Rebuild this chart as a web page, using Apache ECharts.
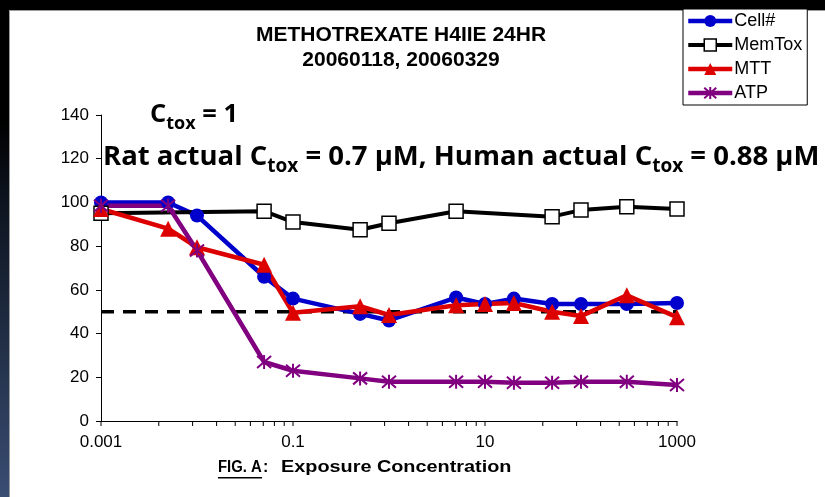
<!DOCTYPE html>
<html>
<head>
<meta charset="utf-8">
<script src="https://cdn.jsdelivr.net/npm/echarts@6/dist/echarts.min.js"></script>
<style>
  html, body { margin: 0; padding: 0; width: 825px; height: 497px; overflow: hidden; background: #000; }
  #edge { position: absolute; left: 0; top: 0; width: 9px; height: 497px;
          background: linear-gradient(to bottom, #000 0px, #000 120px, #0d141f 200px, #1f2c42 330px, #3a4d73 497px); }
  #sheet { position: absolute; left: 9px; top: 10px; right: 0; bottom: 0; background: #fff;
           border-left: 1px solid #9c9c9c; border-top: 1px solid #9c9c9c; }
  #chart { position: absolute; left: 0; top: 0; width: 825px; height: 497px; }
</style>
</head>
<body>
<div id="edge"></div>
<div id="sheet"></div>
<div id="chart"></div>
<script>
// Exposure concentrations (µM) and the response of each assay (% of control)
const concentrations = [0.001, 0.005, 0.01, 0.05, 0.1, 0.5, 1, 5, 10, 20, 50, 100, 300, 1000];
const cellCount = [100, 100, 94, 66, 56, 49, 46, 56.5, 53.5, 56, 53.5, 53.5, 53.5, 54];
const memTox    = [95, null, null, 96, 91, 87.5, 90.5, 96, null, null, 93.5, 96.5, 98, 97];
const mttValues = [97, 88, 79.5, 71.5, 49.5, 52.5, 48.5, 53, 53.5, 54, 50, 48, 57.5, 47.5];
const atpValues = [98.5, 98.5, 78, 27, 23, 19.5, 18, 18, 18, 17.5, 17.5, 18, 18, 16.5];

const thresholdLevel = 50;
const xLabelValues = [0.001, 0.1, 10, 1000];
const yTickLabels = [0, 20, 40, 60, 80, 100, 120, 140];

const titleLines = ['METHOTREXATE H4IIE 24HR', '20060118, 20060329'];
// annotation runs: [text, isSubscript]
const ctoxLine = [['C', false], ['tox', true], [' = 1', false]];
const actualLine = [['Rat actual C', false], ['tox', true], [' = 0.7 μM, Human actual C', false], ['tox', true], [' = 0.88 μM', false]];

// [concentration, value] pairs, skipping concentrations without a reading
const pairs = vals => concentrations
  .map((c, i) => [c, vals[i]])
  .filter(p => p[1] !== null);

// Axis ticks: the labelled marks plus the k² subdivisions between them
const axisTickValues = [];
for (let j = 0; j < xLabelValues.length - 1; j++) {
  for (let k = 1; k <= 9; k++) axisTickValues.push(xLabelValues[j] * k * k);
}
axisTickValues.push(xLabelValues[xLabelValues.length - 1]);

const asterisk = 'path://M0 0L12 12M12 0L0 12M6 -1L6 13';
const SANS = 'Arial, "Liberation Sans", sans-serif';
const ANNOT = '"Open Sans", Lato, sans-serif';

// Lay out a run of normal and subscript pieces left to right
const measureCtx = document.createElement('canvas').getContext('2d');
function textRun(x, yMid, runs, size, subSize, subDrop) {
  const items = [];
  let cx = x;
  runs.forEach(([txt, isSub]) => {
    const fs = isSub ? subSize : size;
    measureCtx.font = 'bold ' + fs + 'px ' + ANNOT;
    items.push({
      type: 'text', x: cx, y: isSub ? yMid + subDrop : yMid,
      style: { text: txt, fontFamily: ANNOT, fontWeight: 'bold', fontSize: fs, fill: '#000',
               textAlign: 'left', textVerticalAlign: 'middle' }
    });
    cx += measureCtx.measureText(txt).width;
  });
  return items;
}

const chart = echarts.init(document.getElementById('chart'), null, { renderer: 'canvas' });

const option = {
  animation: false,
  backgroundColor: 'transparent',
  grid: { left: 101, right: 148, top: 115, bottom: 76, containLabel: false },
  xAxis: {
    type: 'log',
    logBase: 10,
    min: 0.001,
    max: 1000,
    axisLine: { show: true, onZero: false, lineStyle: { color: '#000', width: 1 } },
    axisTick: { show: false },
    splitLine: { show: false },
    axisLabel: {
      margin: 13,
      fontFamily: SANS,
      fontSize: 17,
      color: '#000',
      formatter: v => {
        const hit = xLabelValues.find(t => Math.abs(Math.log10(v) - Math.log10(t)) < 1e-6);
        return hit === undefined ? '' : String(hit);
      }
    }
  },
  yAxis: {
    type: 'value',
    min: yTickLabels[0],
    max: yTickLabels[yTickLabels.length - 1],
    interval: yTickLabels[1] - yTickLabels[0],
    axisLine: { show: true, lineStyle: { color: '#000', width: 1 } },
    axisTick: { show: true, length: 5, lineStyle: { color: '#000' } },
    splitLine: { show: false },
    axisLabel: { margin: 12, fontFamily: SANS, fontSize: 17, color: '#000' }
  },
  legend: {
    orient: 'vertical',
    left: 683,
    top: 9,
    padding: [3, 5, 3, 3],
    backgroundColor: '#fff',
    borderColor: '#000',
    borderWidth: 1,
    borderRadius: 0,
    itemWidth: 44,
    itemHeight: 15,
    itemGap: 6,
    lineStyle: { width: 'inherit' },
    itemStyle: { borderWidth: 'inherit' },
    textStyle: { fontFamily: SANS, fontSize: 18, color: '#000', lineHeight: 17.3, padding: [0, 0, 0, -3] },
    data: ['Cell#', 'MemTox', 'MTT', 'ATP']
  },
  graphic: [
    { type: 'text', x: 401, y: 35.5, style: { text: titleLines[0], fontFamily: SANS, fontWeight: 'bold', fontSize: 21, fill: '#000', textAlign: 'center', textVerticalAlign: 'middle' } },
    { type: 'text', x: 401, y: 60, style: { text: titleLines[1], fontFamily: SANS, fontWeight: 'bold', fontSize: 21, fill: '#000', textAlign: 'center', textVerticalAlign: 'middle' } },
    ...textRun(150, 115, ctoxLine, 25.5, 18, 9),
    ...textRun(103, 157, actualLine, 27.5, 19, 10),
    { type: 'text', x: 218, y: 468, scaleX: 0.93, style: { text: 'FIG. A', fontFamily: SANS, fontWeight: 'bold', fontSize: 16, fill: '#000', textVerticalAlign: 'middle' } },
    { type: 'rect', shape: { x: 218, y: 477, width: 44, height: 1.4 }, style: { fill: '#000' } },
    { type: 'text', x: 263, y: 468, style: { text: ':', fontFamily: SANS, fontWeight: 'bold', fontSize: 16, fill: '#000', textVerticalAlign: 'middle' } },
    { type: 'text', x: 281, y: 468, scaleX: 1.24, style: { text: 'Exposure Concentration', fontFamily: SANS, fontWeight: 'bold', fontSize: 16, fill: '#000', textVerticalAlign: 'middle' } }
  ],
  series: [
    {
      type: 'custom',
      silent: true,
      clip: false,
      z: 1,
      data: axisTickValues.map(v => [v, 0]),
      renderItem: (params, api) => {
        const p = api.coord([api.value(0), 0]);
        return { type: 'line', shape: { x1: p[0], y1: p[1], x2: p[0], y2: p[1] + 5 }, style: { stroke: '#000', lineWidth: 1 } };
      }
    },
    {
      name: 'threshold',
      type: 'line',
      silent: true,
      symbol: 'none',
      data: [[xLabelValues[0], thresholdLevel], [xLabelValues[xLabelValues.length - 1], thresholdLevel]],
      lineStyle: { color: '#000', width: 3.5, type: [13, 9] }
    },
    {
      name: 'Cell#',
      type: 'line',
      data: pairs(cellCount),
      symbol: 'circle',
      symbolSize: 14,
      lineStyle: { color: '#0000cc', width: 4.5 },
      itemStyle: { color: '#0000cc' }
    },
    {
      name: 'MemTox',
      type: 'line',
      data: pairs(memTox),
      symbol: 'rect',
      symbolSize: 14,
      lineStyle: { color: '#000', width: 4 },
      itemStyle: { color: '#fff', borderColor: '#000', borderWidth: 1.5 }
    },
    {
      name: 'MTT',
      type: 'line',
      data: pairs(mttValues),
      symbol: 'triangle',
      symbolSize: 16,
      lineStyle: { color: '#dd0000', width: 4.5 },
      itemStyle: { color: '#dd0000' }
    },
    {
      name: 'ATP',
      type: 'line',
      data: pairs(atpValues),
      symbol: asterisk,
      symbolSize: 14,
      lineStyle: { color: '#800080', width: 4.5 },
      itemStyle: { color: '#800080', borderColor: '#800080', borderWidth: 2 }
    }
  ]
};

chart.setOption(option);
</script>
</body>
</html>
